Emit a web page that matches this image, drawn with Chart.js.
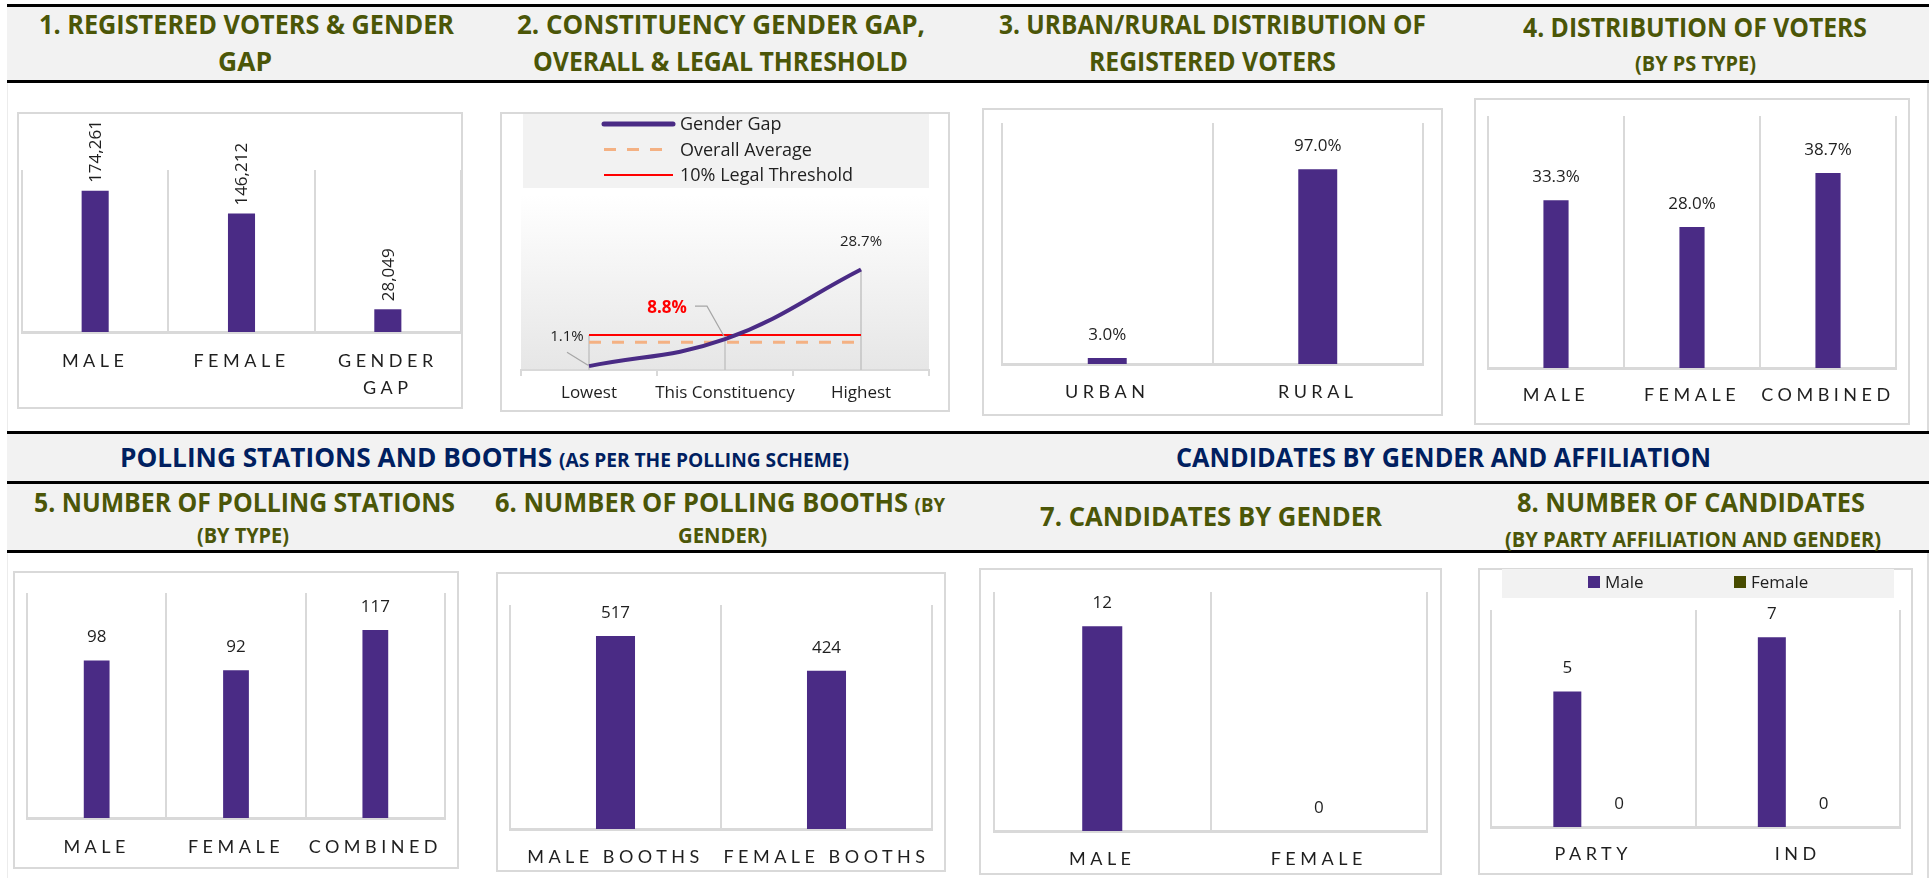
<!DOCTYPE html>
<html><head><meta charset="utf-8"><title>Constituency dashboard</title>
<script src="https://cdn.jsdelivr.net/npm/chart.js@4.4.1/dist/chart.umd.min.js"></script>
<style>
html,body{margin:0;padding:0;background:#fff;}
body{width:1929px;height:878px;position:relative;overflow:hidden;font-family:'Open Sans',sans-serif;}
.band{position:absolute;left:7px;width:1922px;background:#f2f2f2;}
.rule{position:absolute;left:7px;width:1922px;height:3px;background:#000;}
.hd{position:absolute;white-space:nowrap;font-weight:700;line-height:1;color:#4b5608;font-size:26px;}
.hd.s{font-size:22px;}
.hd.nv{color:#002060;}
.hd small{font-size:19px;}
.box{position:absolute;border:2px solid #d9d9d9;box-sizing:border-box;}
canvas{position:absolute;}
</style></head><body>
<div class="rule" style="top:4px"></div>
<div class="band" style="top:7px;height:73px"></div>
<div class="rule" style="top:80px"></div>
<div class="rule" style="top:431px"></div>
<div class="band" style="top:434px;height:47px"></div>
<div class="rule" style="top:481px"></div>
<div class="band" style="top:484px;height:66px"></div>
<div class="rule" style="top:550px"></div>
<div style="position:absolute;left:7px;top:83px;width:1px;height:348px;background:#ececec"></div>
<div style="position:absolute;left:7px;top:553px;width:1px;height:325px;background:#ececec"></div>
<div style="position:absolute;left:1927px;top:83px;width:2px;height:348px;background:#dcdcdc"></div>
<div style="position:absolute;left:1927px;top:553px;width:2px;height:325px;background:#dcdcdc"></div>

<div class="hd" data-x="246" data-y="24" data-w="415">1. REGISTERED VOTERS &amp; GENDER</div>
<div class="hd" data-x="245" data-y="61" data-w="54">GAP</div>
<div class="hd" data-x="721" data-y="24" data-w="408">2. CONSTITUENCY GENDER GAP,</div>
<div class="hd" data-x="720" data-y="61" data-w="375">OVERALL &amp; LEGAL THRESHOLD</div>
<div class="hd" data-x="1212" data-y="24" data-w="427">3. URBAN/RURAL DISTRIBUTION OF</div>
<div class="hd" data-x="1212" data-y="61" data-w="247">REGISTERED VOTERS</div>
<div class="hd" data-x="1695" data-y="27" data-w="344">4. DISTRIBUTION OF VOTERS</div>
<div class="hd s" data-x="1695" data-y="62" data-w="121">(BY PS TYPE)</div>
<div class="hd nv" data-x="484" data-y="457" data-w="729">POLLING STATIONS AND BOOTHS <small>(AS PER THE POLLING SCHEME)</small></div>
<div class="hd nv" data-x="1443" data-y="457" data-w="535">CANDIDATES BY GENDER AND AFFILIATION</div>
<div class="hd" data-x="244" data-y="502" data-w="421">5. NUMBER OF POLLING STATIONS</div>
<div class="hd s" data-x="243" data-y="534" data-w="92">(BY TYPE)</div>
<div class="hd" data-x="720" data-y="502" data-w="450">6. NUMBER OF POLLING BOOTHS <small>(BY</small></div>
<div class="hd s" data-x="722" data-y="534" data-w="89">GENDER)</div>
<div class="hd" data-x="1211" data-y="516" data-w="342">7. CANDIDATES BY GENDER</div>
<div class="hd" data-x="1691" data-y="502" data-w="348">8. NUMBER OF CANDIDATES</div>
<div class="hd s" data-x="1693" data-y="538" data-w="376">(BY PARTY AFFILIATION AND GENDER)</div>

<script>
// ---------------- DATA ----------------
const regCategories = ['MALE', 'FEMALE', ['GENDER', 'GAP']];
const regValues = [174261, 146212, 28049];

const gapCategories = ['Lowest', 'This Constituency', 'Highest'];
const genderGap = [1.1, 8.8, 28.7];
const overallAverage = [7.9, 7.9, 7.9];
const legalThreshold = [10, 10, 10];

const areaCategories = ['URBAN', 'RURAL'];
const areaShare = [3.0, 97.0];

const psTypeCategories = ['MALE', 'FEMALE', 'COMBINED'];
const psTypeShare = [33.3, 28.0, 38.7];

const stationCategories = ['MALE', 'FEMALE', 'COMBINED'];
const stationCounts = [98, 92, 117];

const boothCategories = ['MALE BOOTHS', 'FEMALE BOOTHS'];
const boothCounts = [517, 424];

const candGenderCategories = ['MALE', 'FEMALE'];
const candGenderCounts = [12, 0];

const affiliationCategories = ['PARTY', 'IND'];
const maleByAffiliation = [5, 7];
const femaleByAffiliation = [0, 0];

// ---------------- STYLE / LAYOUT ----------------
const PURPLE = '#4a2b85';
const OLIVE = '#474b00';
const TXT = '#1f1f1f';
const LABEL_FONT = "'Open Sans', sans-serif";
const AXIS_FONT = "Lato, sans-serif";

const layout = {
  c1: {box: [17, 112, 463, 409], plot: [22, 170, 461, 332]},
  c2: {box: [500, 112, 950, 412], plot: [521, 195, 929, 370]},
  c3: {box: [982, 108, 1443, 416], plot: [1002, 123, 1423, 364]},
  c4: {box: [1474, 98, 1910, 425], plot: [1488, 116, 1896, 368]},
  c5: {box: [13, 571, 459, 869], plot: [27, 593, 445, 818]},
  c6: {box: [496, 572, 946, 872], plot: [510, 605, 932, 829]},
  c7: {box: [979, 568, 1442, 875], plot: [994, 592, 1427, 831]},
  c8: {box: [1478, 568, 1913, 875], plot: [1491, 610, 1900, 827]}
};

function placeHeaders() {
  document.querySelectorAll('.hd').forEach(el => {
    el.style.transform = 'none'; el.style.left = '0px'; el.style.top = '0px';
    const r = el.getBoundingClientRect();
    const tw = +el.dataset.w, x = +el.dataset.x, y = +el.dataset.y;
    el.style.left = (x - tw / 2) + 'px';
    el.style.top = (y - r.height / 2) + 'px';
    el.style.transformOrigin = '0 50%';
    el.style.transform = 'scaleX(' + (tw / r.width) + ')';
  });
}
placeHeaders();
if (document.fonts && document.fonts.ready) document.fonts.ready.then(placeHeaders);

function makeCanvas(g, axisH) {
  const [bl, bt, br, bb] = g.box, [pl, pt, pr, pb] = g.plot;
  const box = document.createElement('div'); box.className = 'box';
  Object.assign(box.style, {left: bl + 'px', top: bt + 'px', width: (br - bl) + 'px', height: (bb - bt) + 'px'});
  document.body.appendChild(box);
  const w = br - bl, h = Math.ceil(pb + axisH - bt);
  const c = document.createElement('canvas');
  c.width = w; c.height = h;
  Object.assign(c.style, {left: bl + 'px', top: bt + 'px', width: w + 'px', height: h + 'px'});
  document.body.appendChild(c);
  return {canvas: c, padding: {left: pl - bl, right: br - pr, top: pt - bt, bottom: h - (pb - bt) - axisH}};
}

function letterSpacingPlugin(px) {
  return {
    id: 'letterSpacing',
    beforeDraw(chart) { chart.ctx.letterSpacing = px + 'px'; },
    beforeDatasetsDraw(chart) { chart.ctx.letterSpacing = '0px'; },
    afterDraw(chart) { chart.ctx.letterSpacing = '0px'; }
  };
}

function valueLabels(fmt, opt) {
  return {
    id: 'valueLabels',
    afterDatasetsDraw(chart) {
      const ctx = chart.ctx;
      ctx.save();
      ctx.letterSpacing = '0px';
      ctx.font = (opt.weight || '400') + ' ' + (opt.size || 17) + 'px ' + LABEL_FONT;
      ctx.fillStyle = TXT;
      chart.data.datasets.forEach((ds, di) => {
        const meta = chart.getDatasetMeta(di);
        meta.data.forEach((el, i) => {
          const txt = fmt(ds.data[i]);
          if (opt.rotate) {
            ctx.save();
            ctx.translate(el.x + 1, el.y - 8);
            ctx.rotate(-Math.PI / 2);
            ctx.textAlign = 'left'; ctx.textBaseline = 'middle';
            ctx.fillText(txt, 0, 0);
            ctx.restore();
          } else {
            ctx.textAlign = 'center'; ctx.textBaseline = 'middle';
            ctx.fillText(txt, el.x, el.y - (opt.gap || 23));
          }
        });
      });
      ctx.restore();
    }
  };
}

function barChart(g, labels, datasets, yMax, cfg) {
  const fs = 18, lh = cfg.lineHeight || 1.2, lines = cfg.lines || 1;
  const axisH = lines * fs * lh + 2 * cfg.pad;
  const {canvas, padding} = makeCanvas(g, axisH);
  return new Chart(canvas, {
    type: 'bar',
    data: {labels, datasets},
    options: {
      responsive: false, animation: false, devicePixelRatio: 1,
      layout: {padding},
      plugins: {legend: {display: false}, tooltip: {enabled: false}},
      scales: {
        x: {
          grid: {offset: true, color: '#d9d9d9', lineWidth: 2, drawTicks: false},
          border: {color: '#d9d9d9', width: 3},
          ticks: {color: TXT, padding: cfg.pad, maxRotation: 0, minRotation: 0, autoSkip: false,
                  font: {family: AXIS_FONT, size: fs, lineHeight: lh}}
        },
        y: {display: false, min: 0, max: yMax}
      }
    },
    plugins: [letterSpacingPlugin(4.5), valueLabels(cfg.fmt, cfg.label || {})].concat(cfg.extra || [])
  });
}

function single(data) {
  return [{data, backgroundColor: PURPLE, barPercentage: 0.185, categoryPercentage: 1.0}];
}
const fmtInt = v => String(v);
const fmtPct = v => v.toFixed(1) + '%';
const fmtThousands = v => v.toLocaleString('en-US');

// 1
barChart(layout.c1, regCategories, single(regValues), 200000,
  {pad: 15.5, lines: 2, lineHeight: 1.5, fmt: fmtThousands, label: {rotate: true, size: 17}});

// 2 (line chart)
(function () {
  const g = layout.c2;
  const axisH = 6 + 17 * 1.2 + 2 * 7;
  const {canvas, padding} = makeCanvas(g, axisH);
  const gradientBg = {
    id: 'gradientBg',
    beforeDraw(chart) {
      const {ctx, chartArea: a} = chart;
      const gr = ctx.createLinearGradient(0, a.top, 0, a.bottom);
      gr.addColorStop(0, '#ffffff'); gr.addColorStop(1, '#e6e6e6');
      ctx.save(); ctx.fillStyle = gr; ctx.fillRect(a.left, a.top, a.right - a.left, a.bottom - a.top); ctx.restore();
    }
  };
  const lineLegend = {
    id: 'lineLegend',
    beforeDraw(chart) {
      const ctx = chart.ctx, a = chart.chartArea;
      ctx.save();
      ctx.fillStyle = '#f2f2f2';
      ctx.fillRect(a.left + 2, 2, a.right - a.left - 2, 74);
      chart.data.datasets.forEach((ds, i) => {
        const y = 12 + i * 25.5;
        ctx.strokeStyle = ds.borderColor;
        ctx.lineWidth = i === 0 ? 5 : ds.borderWidth;
        ctx.lineCap = i === 0 ? 'round' : 'butt';
        ctx.setLineDash(ds.borderDash || []);
        ctx.beginPath(); ctx.moveTo(a.left + 83, y); ctx.lineTo(a.left + 152, y); ctx.stroke();
        ctx.setLineDash([]);
        ctx.fillStyle = TXT; ctx.font = '18px ' + LABEL_FONT;
        ctx.textAlign = 'left'; ctx.textBaseline = 'middle';
        ctx.fillText(ds.label, a.left + 159, y + 1);
      });
      ctx.restore();
    }
  };
  const dropLines = {
    id: 'dropLines',
    beforeDatasetsDraw(chart) {
      const ctx = chart.ctx, n = chart.data.labels.length;
      const metas = chart.data.datasets.map((d, i) => chart.getDatasetMeta(i));
      ctx.save(); ctx.strokeStyle = '#c3c3c3'; ctx.lineWidth = 1.5;
      for (let i = 0; i < n; i++) {
        const x = metas[0].data[i].x;
        const top = Math.min(...metas.map(m => m.data[i].y));
        ctx.beginPath(); ctx.moveTo(x, top); ctx.lineTo(x, chart.chartArea.bottom); ctx.stroke();
      }
      ctx.restore();
    }
  };
  const gapLabels = {
    id: 'gapLabels',
    afterDatasetsDraw(chart) {
      const ctx = chart.ctx, p = chart.getDatasetMeta(0).data, v = chart.data.datasets[0].data;
      ctx.save();
      ctx.strokeStyle = '#a6a6a6'; ctx.lineWidth = 1.2;
      ctx.beginPath(); ctx.moveTo(p[0].x - 22, p[0].y - 14); ctx.lineTo(p[0].x - 1, p[0].y - 1); ctx.stroke();
      ctx.beginPath(); ctx.moveTo(p[1].x - 30, p[1].y - 33); ctx.lineTo(p[1].x - 18, p[1].y - 33); ctx.lineTo(p[1].x - 1, p[1].y - 3); ctx.stroke();
      ctx.textAlign = 'center'; ctx.textBaseline = 'middle';
      ctx.font = '15px ' + LABEL_FONT; ctx.fillStyle = TXT;
      ctx.fillText(fmtPct(v[0]), p[0].x - 22, p[0].y - 29);
      ctx.fillText(fmtPct(v[2]), p[2].x, p[2].y - 28);
      ctx.font = '700 17px ' + LABEL_FONT; ctx.fillStyle = '#ff0000';
      ctx.fillText(fmtPct(v[1]), p[1].x - 58, p[1].y - 31);
      ctx.restore();
    }
  };
  new Chart(canvas, {
    type: 'line',
    data: {
      labels: gapCategories,
      datasets: [
        {label: 'Gender Gap', data: genderGap, borderColor: PURPLE, borderWidth: 4, tension: 0.4, pointRadius: 0, order: 0},
        {label: 'Overall Average', data: overallAverage, borderColor: '#f4b183', borderWidth: 3, borderDash: [12, 11], pointRadius: 0, order: 1},
        {label: '10% Legal Threshold', data: legalThreshold, borderColor: '#ff0000', borderWidth: 2, pointRadius: 0, order: 2}
      ]
    },
    options: {
      responsive: false, animation: false, devicePixelRatio: 1,
      layout: {padding},
      plugins: {legend: {display: false}, tooltip: {enabled: false}},
      scales: {
        x: {
          offset: true,
          grid: {offset: true, drawOnChartArea: false, drawTicks: true, tickLength: 6, color: '#d9d9d9', lineWidth: 2},
          border: {color: '#d9d9d9', width: 2},
          ticks: {color: TXT, padding: 7, maxRotation: 0, autoSkip: false, font: {family: LABEL_FONT, size: 17}}
        },
        y: {display: false, min: 0, max: 50}
      }
    },
    plugins: [gradientBg, lineLegend, dropLines, gapLabels]
  });
})();

// 3
barChart(layout.c3, areaCategories, single(areaShare), 120, {pad: 17, fmt: fmtPct});
// 4
barChart(layout.c4, psTypeCategories, single(psTypeShare), 50, {pad: 16, fmt: fmtPct});
// 5
barChart(layout.c5, stationCategories, single(stationCounts), 140, {pad: 18, fmt: fmtInt});
// 6
barChart(layout.c6, boothCategories, single(boothCounts), 600, {pad: 17, fmt: fmtInt});
// 7
barChart(layout.c7, candGenderCategories, single(candGenderCounts), 14, {pad: 17, fmt: fmtInt});
// 8
(function () {
  const boxLegend = {
    id: 'boxLegend',
    beforeDraw(chart) {
      const ctx = chart.ctx, a = chart.chartArea;
      ctx.save();
      ctx.letterSpacing = '0px';
      ctx.fillStyle = '#f2f2f2';
      ctx.fillRect(a.left + 11, 1, a.right - a.left - 17, 29);
      const xs = [a.left + 97, a.left + 243];
      chart.data.datasets.forEach((ds, i) => {
        ctx.fillStyle = ds.backgroundColor;
        ctx.fillRect(xs[i], 8, 12, 12);
        ctx.fillStyle = TXT; ctx.font = '17px ' + LABEL_FONT;
        ctx.textAlign = 'left'; ctx.textBaseline = 'middle';
        ctx.fillText(ds.label, xs[i] + 17, 15);
      });
      ctx.restore();
    }
  };
  barChart(layout.c8, affiliationCategories, [
    {label: 'Male', data: maleByAffiliation, backgroundColor: PURPLE, barPercentage: 0.54, categoryPercentage: 0.507},
    {label: 'Female', data: femaleByAffiliation, backgroundColor: OLIVE, barPercentage: 0.54, categoryPercentage: 0.507}
  ], 8, {pad: 16, fmt: fmtInt, extra: [boxLegend]});
})();
</script>
</body></html>
